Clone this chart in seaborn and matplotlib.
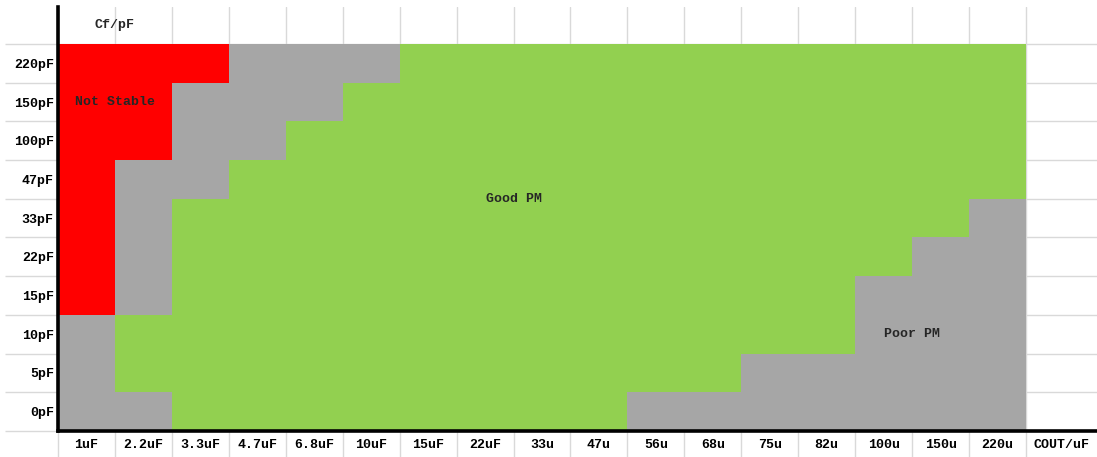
import numpy as np
import pandas as pd
import matplotlib
matplotlib.use("Agg")
import matplotlib.pyplot as plt
from matplotlib.colors import ListedColormap
import seaborn as sns

sns.set_style("white")
plt.rcParams['font.family'] = ['Liberation Mono', 'DejaVu Sans Mono']

# Output capacitance (columns) and feed-forward capacitance (rows, top to bottom)
cout_labels = ["1uF", "2.2uF", "3.3uF", "4.7uF", "6.8uF", "10uF", "15uF", "22uF",
               "33u", "47u", "56u", "68u", "75u", "82u", "100u", "150u", "220u"]
cf_labels = ["220pF", "150pF", "100pF", "47pF", "33pF", "22pF", "15pF", "10pF", "5pF", "0pF"]

# 0 = Not Stable, 1 = Poor PM, 2 = Good PM
row_220 = [0, 0, 0, 1, 1, 1, 2, 2, 2, 2, 2, 2, 2, 2, 2, 2, 2]
row_150 = [0, 0, 1, 1, 1, 2, 2, 2, 2, 2, 2, 2, 2, 2, 2, 2, 2]
row_100 = [0, 0, 1, 1, 2, 2, 2, 2, 2, 2, 2, 2, 2, 2, 2, 2, 2]
row_47 = [0, 1, 1, 2, 2, 2, 2, 2, 2, 2, 2, 2, 2, 2, 2, 2, 2]
row_33 = [0, 1, 2, 2, 2, 2, 2, 2, 2, 2, 2, 2, 2, 2, 2, 2, 1]
row_22 = [0, 1, 2, 2, 2, 2, 2, 2, 2, 2, 2, 2, 2, 2, 2, 1, 1]
row_15 = [0, 1, 2, 2, 2, 2, 2, 2, 2, 2, 2, 2, 2, 2, 1, 1, 1]
row_10 = [1, 2, 2, 2, 2, 2, 2, 2, 2, 2, 2, 2, 2, 2, 1, 1, 1]
row_5 = [1, 2, 2, 2, 2, 2, 2, 2, 2, 2, 2, 2, 1, 1, 1, 1, 1]
row_0 = [1, 1, 2, 2, 2, 2, 2, 2, 2, 2, 1, 1, 1, 1, 1, 1, 1]

region_colors = ["#FF0000", "#A6A6A6", "#92D050"]
region_labels = ["Not Stable", "Poor PM", "Good PM"]

df = pd.DataFrame([row_220, row_150, row_100, row_47, row_33, row_22, row_15,
                   row_10, row_5, row_0], index=cf_labels, columns=cout_labels)

W, H = 1097, 457
fig = plt.figure(figsize=(W / 100, H / 100), dpi=100)
ax = fig.add_axes([58 / W, (H - 431) / H, (W - 58) / W, (431 - 7) / H])

sns.heatmap(df, ax=ax, cmap=ListedColormap(region_colors), vmin=-0.5, vmax=2.5,
            cbar=False, linewidths=0)

ncol, nrow = len(cout_labels), len(cf_labels)
extra_col = 71 / 56.94
extra_row = 37 / 38.7
ax.set_xlim(0, ncol + extra_col)
ax.set_ylim(nrow, -extra_row)

grid_c = "#D9D9D9"
fs = 9.5
fw = 'bold'
ax.set_axisbelow(True)
ax.set_xticks(np.arange(0, ncol + 1))
ax.set_xticklabels([])
ax.set_yticks(np.arange(0, nrow + 1))
ax.set_yticklabels([])
ax.set_xticks(list(np.arange(ncol) + 0.5) + [ncol + extra_col / 2], minor=True)
ax.set_xticklabels(cout_labels + ["COUT/uF"], minor=True, fontweight=fw)
ax.set_yticks(np.arange(nrow) + 0.5, minor=True)
ax.set_yticklabels(cf_labels, minor=True, rotation=0, fontweight=fw)
ax.grid(True, which='major', color=grid_c, linewidth=1.0)
ax.tick_params(axis='both', which='both', bottom=True, left=True, top=False, right=False)
ax.tick_params(axis='x', which='major', direction='out', length=19, width=1.0, color=grid_c)
ax.tick_params(axis='y', which='major', direction='out', length=38, width=1.0, color=grid_c)
ax.tick_params(which='minor', length=0, labelsize=fs, colors='black')
ax.tick_params(axis='x', which='minor', pad=6)
ax.tick_params(axis='y', which='minor', pad=3)

for s in ['top', 'right']:
    ax.spines[s].set_visible(False)
for s in ['left', 'bottom']:
    ax.spines[s].set_visible(True)
    ax.spines[s].set_color('black')
    ax.spines[s].set_linewidth(2.6)
    ax.spines[s].set_zorder(5)

ax.text(1.0, -extra_row / 2, "Cf/pF", ha='center', va='center', fontsize=fs, fontweight=fw)
ax.text(1.0, 1.5, region_labels[0], ha='center', va='center', fontsize=fs, fontweight=fw)
ax.text(8.0, 4.0, region_labels[2], ha='center', va='center', fontsize=fs, fontweight=fw)
ax.text(15.0, 7.5, region_labels[1], ha='center', va='center', fontsize=fs, fontweight=fw)

fig.savefig("out.png", dpi=100)
